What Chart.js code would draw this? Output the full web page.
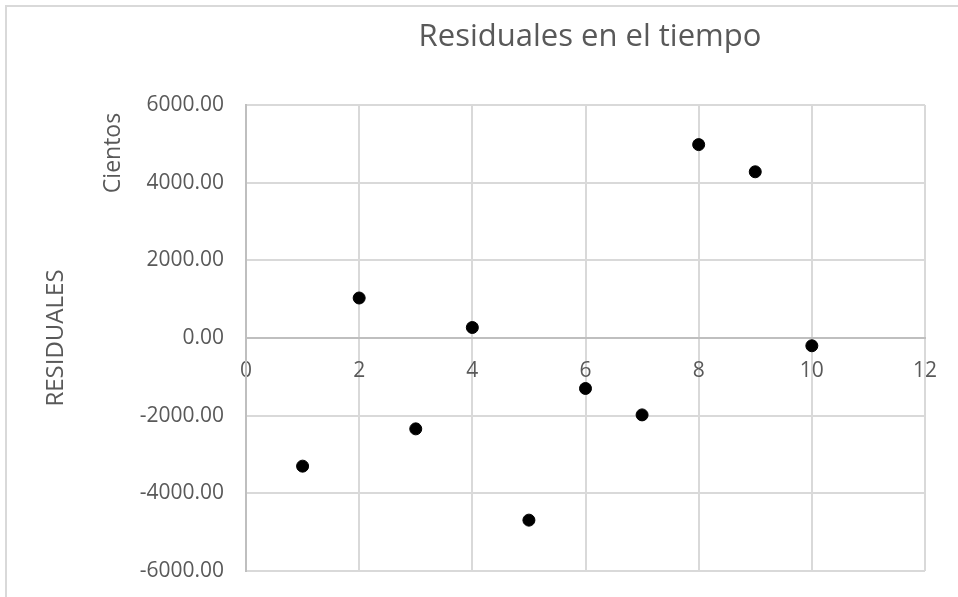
<!DOCTYPE html>
<html>
<head>
<meta charset="utf-8">
<script src="https://cdn.jsdelivr.net/npm/chart.js@4"></script>
<style>
  html, body { margin: 0; padding: 0; background: #ffffff; }
  #wrap { width: 958px; height: 597px; }
</style>
</head>
<body>
<div id="wrap"><canvas id="c" width="958" height="597"></canvas></div>
<script>
const periods = [1, 2, 3, 4, 5, 6, 7, 8, 9, 10];
const residuals = [-3300, 1030, -2340, 270, -4690, -1300, -1980, 4980, 4280, -200];
const chartTitle = 'Residuales en el tiempo';
const yAxisTitle = 'RESIDUALES';
const unitLabel = 'Cientos';

const FONT = "'Open Sans', 'Noto Sans', sans-serif";
const TEXT = '#595959';

const decorPlugin = {
  id: 'decor',
  beforeDraw(chart) {
    const ctx = chart.ctx;
    ctx.save();
    ctx.strokeStyle = '#d9d9d9';
    ctx.lineWidth = 2;
    ctx.strokeRect(6, 6, 1200, 1200);
    ctx.restore();
  },
  afterDraw(chart) {
    const ctx = chart.ctx;
    ctx.save();
    ctx.fillStyle = TEXT;
    ctx.textAlign = 'center';
    ctx.textBaseline = 'middle';
    ctx.font = "31px " + FONT;
    ctx.fillText(chartTitle, 590, 37);
    ctx.translate(113, 153);
    ctx.rotate(-Math.PI / 2);
    ctx.font = "23px " + FONT;
    ctx.fillText(unitLabel, 0, 0);
    ctx.restore();
  }
};

const data = {
  datasets: [{
    label: yAxisTitle,
    data: periods.map((p, i) => ({ x: p, y: residuals[i] })),
    backgroundColor: '#000000',
    borderColor: '#000000',
    pointRadius: 6,
    pointHoverRadius: 6
  }]
};

new Chart(document.getElementById('c'), {
  type: 'scatter',
  data: data,
  plugins: [decorPlugin],
  options: {
    responsive: false,
    animation: false,
    layout: { padding: { top: 105, right: 33, bottom: 26, left: 0 } },
    plugins: {
      legend: { display: false },
      title: { display: false },
      tooltip: { enabled: false }
    },
    scales: {
      x: {
        type: 'linear',
        position: { y: 0 },
        min: 0, max: 12,
        ticks: { stepSize: 2, color: TEXT, font: { family: FONT, size: 21 }, padding: 3, maxRotation: 0 },
        grid: { color: '#d9d9d9', lineWidth: 2, drawTicks: true, tickLength: 17, tickColor: 'rgba(0,0,0,0)' },
        border: { color: '#bfbfbf', width: 2 }
      },
      y: {
        type: 'linear',
        position: 'left',
        min: -6000, max: 6000,
        ticks: {
          stepSize: 2000, color: TEXT, font: { family: FONT, size: 21 }, padding: 3,
          callback: v => Number(v).toFixed(2)
        },
        grid: { color: '#d9d9d9', lineWidth: 2, drawTicks: true, tickLength: 19, tickColor: 'rgba(0,0,0,0)' },
        border: { color: '#bfbfbf', width: 2 },
        title: { display: true, text: yAxisTitle, color: TEXT, font: { family: FONT, size: 24 }, padding: { top: 42, bottom: 0 } },
        afterFit(scale) { scale.width = 246; }
      }
    }
  }
});
</script>
</body>
</html>
